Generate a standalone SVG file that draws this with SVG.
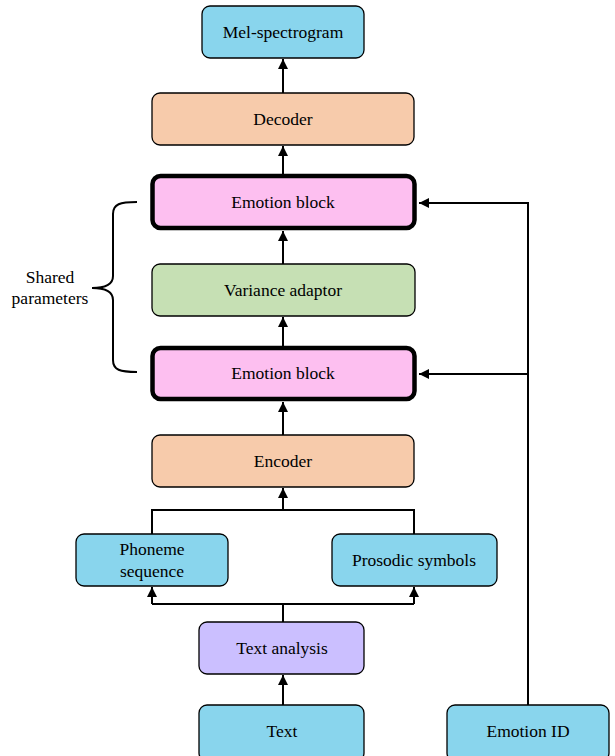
<svg xmlns="http://www.w3.org/2000/svg" width="615" height="756" viewBox="0 0 615 756">
<style>
.box{stroke:#000;stroke-width:1.3}
.thick{stroke:#000;stroke-width:4.5}
.blue{fill:#89d5ed}
.orange{fill:#f7cbab}
.pink{fill:#fdbff0}
.green{fill:#c6e0b4}
.purple{fill:#cbbfff}
text{font-family:"Liberation Serif","Times New Roman",serif;font-size:17.5px;fill:#000;text-anchor:middle}
.conn{fill:none;stroke:#000;stroke-width:2}
</style>
<defs>
<marker id="ah" viewBox="0 0 10 10" refX="10" refY="5" markerWidth="5" markerHeight="5" orient="auto" markerUnits="strokeWidth">
<path d="M0,0 L10,5 L0,10 z" fill="#000"/>
</marker>
</defs>
<rect width="615" height="756" fill="#fff"/>
<g id="connectors">
<path class="conn" d="M283,93 L283,59" marker-end="url(#ah)"/>
<path class="conn" d="M283,174 L283,146" marker-end="url(#ah)"/>
<path class="conn" d="M283,264 L283,231" marker-end="url(#ah)"/>
<path class="conn" d="M283,346 L283,317" marker-end="url(#ah)"/>
<path class="conn" d="M283,435 L283,402" marker-end="url(#ah)"/>
<path class="conn" d="M152,534 L152,510 L414,510 L414,534"/>
<path class="conn" d="M283,510 L283,488" marker-end="url(#ah)"/>
<path class="conn" d="M283,622 L283,604"/>
<path class="conn" d="M152,604 L414,604"/>
<path class="conn" d="M152,604 L152,587" marker-end="url(#ah)"/>
<path class="conn" d="M414,604 L414,587" marker-end="url(#ah)"/>
<path class="conn" d="M283,705 L283,675" marker-end="url(#ah)"/>
<path class="conn" d="M528,705 L528,203 L419,203" marker-end="url(#ah)"/>
<path class="conn" d="M528,374 L419,374" marker-end="url(#ah)"/>
<path class="conn" d="M137,202 C120,202 113,204 113,214 L113,276 C113,285 105,288 92,288 C105,288 113,291 113,300 L113,360 C113,370 120,372 137,372" stroke-width="1.8"/>
</g>
<g id="mel"><rect class="box blue" x="202" y="6" width="162" height="52" rx="8"/><text x="283" y="38">Mel-spectrogram</text></g>
<g id="decoder"><rect class="box orange" x="152" y="93" width="262" height="52" rx="8"/><text x="283" y="125">Decoder</text></g>
<g id="emotion-top"><rect class="thick pink" x="152.5" y="176" width="262" height="52" rx="8"/><text x="283" y="208">Emotion block</text></g>
<g id="shared"><text x="50" y="283">Shared</text><text x="50" y="304">parameters</text></g>
<g id="variance"><rect class="box green" x="152" y="264" width="263" height="52" rx="8"/><text x="283" y="296">Variance adaptor</text></g>
<g id="emotion-bottom"><rect class="thick pink" x="152.5" y="348" width="262" height="51" rx="8"/><text x="283" y="379">Emotion block</text></g>
<g id="encoder"><rect class="box orange" x="152" y="435" width="262" height="52" rx="8"/><text x="283" y="467">Encoder</text></g>
<g id="phoneme"><rect class="box blue" x="76" y="534" width="152" height="52" rx="8"/><text x="152" y="555">Phoneme</text><text x="152" y="577">sequence</text></g>
<g id="prosodic"><rect class="box blue" x="332" y="534" width="165" height="52" rx="8"/><text x="414" y="566">Prosodic symbols</text></g>
<g id="textanalysis"><rect class="box purple" x="199" y="622" width="165" height="52" rx="8"/><text x="282" y="654">Text analysis</text></g>
<g id="text"><rect class="box blue" x="199" y="705" width="165" height="56" rx="8"/><text x="282" y="737">Text</text></g>
<g id="emotionid"><rect class="box blue" x="447" y="705" width="162" height="56" rx="8"/><text x="528" y="737">Emotion ID</text></g>
</svg>
